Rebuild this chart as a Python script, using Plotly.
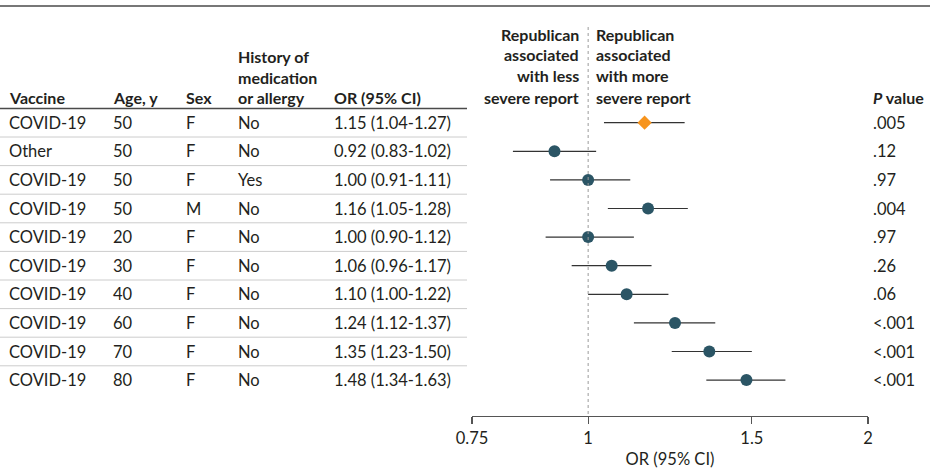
import plotly.graph_objects as go
import math

# ---- data ----
vaccine = ["COVID-19", "Other", "COVID-19", "COVID-19", "COVID-19", "COVID-19", "COVID-19", "COVID-19", "COVID-19", "COVID-19"]
age = ["50", "50", "50", "50", "20", "30", "40", "60", "70", "80"]
sex = ["F", "F", "F", "M", "F", "F", "F", "F", "F", "F"]
history = ["No", "No", "Yes", "No", "No", "No", "No", "No", "No", "No"]
or_est = [1.15, 0.92, 1.00, 1.16, 1.00, 1.06, 1.10, 1.24, 1.35, 1.48]
ci_low = [1.04, 0.83, 0.91, 1.05, 0.90, 0.96, 1.00, 1.12, 1.23, 1.34]
ci_high = [1.27, 1.02, 1.11, 1.28, 1.12, 1.17, 1.22, 1.37, 1.50, 1.63]
p_values = [".005", ".12", ".97", ".004", ".97", ".26", ".06", "<.001", "<.001", "<.001"]
is_reference = [True, False, False, False, False, False, False, False, False, False]
x_ticks = [0.75, 1, 1.5, 2]
x_tick_labels = ["0.75", "1", "1.5", "2"]

W, H = 930, 469
FONT = "Lato"
TXT = "#231f20"
FS = 16.5
FSH = 16

rows = list(range(len(vaccine)))

def px(x):
    return x / W

def py(y):
    return 1 - y / H

# row pixel geometry: row 0 centre at 122.7, step 28.6; axis line at 416
row0, step, axis_y = 122.7, 28.6, 416
y_top_val = (0 - row0) / step
y_bot_val = (axis_y - row0) / step

fig = go.Figure()

colors = ["#f7941d" if r else "#2b5565" for r in is_reference]
symbols = ["diamond" if r else "circle" for r in is_reference]
sizes = [11 if r else 12 for r in is_reference]

fig.add_trace(go.Scatter(
    x=or_est, y=rows, mode="markers",
    marker=dict(color=colors, symbol=symbols, size=sizes, opacity=1, line=dict(width=0)),
    error_x=dict(type="data", symmetric=False,
                 array=[h - o for h, o in zip(ci_high, or_est)],
                 arrayminus=[o - l for o, l in zip(or_est, ci_low)],
                 color="#333333", thickness=1.2, width=0),
    hoverinfo="skip", showlegend=False,
))

shapes = []
# top rule
shapes.append(dict(type="line", xref="paper", yref="paper", x0=0, x1=1, y0=py(6), y1=py(6),
                   line=dict(color="#4a4a4a", width=1.5)))
# header rule
shapes.append(dict(type="line", xref="paper", yref="paper", x0=0, x1=px(467), y0=py(108.5), y1=py(108.5),
                   line=dict(color="#4a4a4a", width=1.5)))
# row separators
for i in rows[:-1]:
    shapes.append(dict(type="line", xref="paper", yref="y", x0=0, x1=px(467), y0=i + 0.5, y1=i + 0.5,
                       line=dict(color="#cccccc", width=1)))
# reference line at OR = 1
shapes.append(dict(type="line", xref="x", yref="paper", x0=1, x1=1, y0=py(27), y1=py(axis_y),
                   line=dict(color="#9a9a9a", width=1, dash="dot")))

ann = []
col_x = [8, 112, 185, 237, 333]
columns = [vaccine, age, sex, history, [f"{o:.2f} ({l:.2f}-{h:.2f})" for o, l, h in zip(or_est, ci_low, ci_high)]]
for cx, col in zip(col_x, columns):
    for i, t in zip(rows, col):
        ann.append(dict(x=px(cx - 1), y=i, xref="paper", yref="y", text=t, showarrow=False,
                        xanchor="left", yanchor="middle", font=dict(size=FS, color=TXT, family=FONT)))
for i, t in zip(rows, p_values):
    ann.append(dict(x=px(871), y=i, xref="paper", yref="y", text=t, showarrow=False,
                    xanchor="left", yanchor="middle", font=dict(size=FS, color=TXT, family=FONT)))

def header(x, y, text, anchor="left"):
    ann.append(dict(x=px(x), y=py(y), xref="paper", yref="paper", text="<b>" + text + "</b>", showarrow=False,
                    xanchor=anchor, yanchor="middle", align=anchor,
                    font=dict(size=FSH, color=TXT, family=FONT)))

header(7, 97, "Vaccine")
header(111, 97, "Age, y")
header(184, 97, "Sex")
header(236, 57, "History of")
header(236, 77, "medication")
header(236, 97, "or allergy")
header(332, 97, "OR (95% CI)")
header(871, 97, "<i>P</i> value")
left_lines = ["Republican", "associated", "with less", "severe report"]
right_lines = ["Republican", "associated", "with more", "severe report"]
for yy, l, r in zip([34, 55, 76, 97], left_lines, right_lines):
    header(581, yy, l, "right")
    header(594, yy, r, "left")

fig.update_layout(
    width=W, height=H, margin=dict(l=0, r=0, t=0, b=0, pad=0, autoexpand=False),
    paper_bgcolor="white", plot_bgcolor="white",
    shapes=shapes, annotations=ann,
    font=dict(family=FONT, color=TXT, size=FS),
    xaxis=dict(type="log", domain=[px(472), px(868)], range=[math.log10(0.75), math.log10(2)],
               tickvals=x_ticks, ticktext=x_tick_labels, ticks="outside", ticklen=7, tickwidth=1.2,
               tickcolor="#555555", showline=True, linecolor="#555555", linewidth=1.2,
               showgrid=False, zeroline=False, tickfont=dict(size=FS, color=TXT), automargin=False,
               title=dict(text="OR (95% CI)", font=dict(size=FS, color=TXT), standoff=8),
               anchor="y"),
    yaxis=dict(domain=[py(axis_y), 1], range=[y_bot_val, y_top_val], visible=False, showgrid=False,
               zeroline=False, automargin=False),
)

fig.write_html("out.html", config={"displayModeBar": False, "staticPlot": True},
               post_script="document.body.style.margin='0';document.body.style.overflow='hidden';")
